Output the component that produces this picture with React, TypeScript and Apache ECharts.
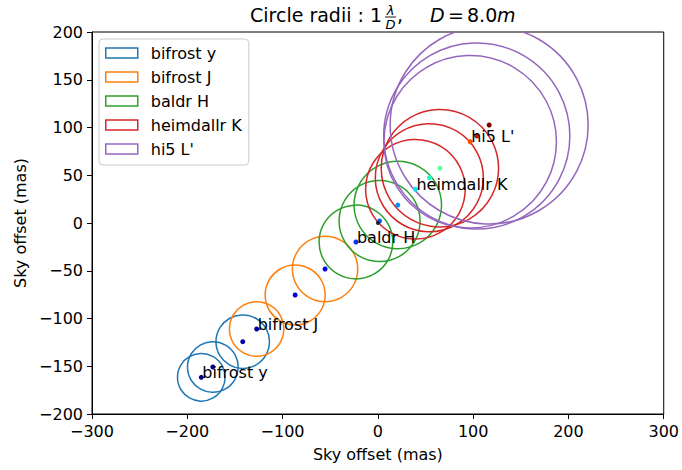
import React, { useEffect, useRef } from 'react';
import * as echarts from 'echarts';

// ---------- data ----------
const instruments = ['bifrost y', 'bifrost J', 'baldr H', 'heimdallr K', "hi5 L'"];
const instrumentColors = ['#1f77b4', '#ff7f0e', '#2ca02c', '#d62728', '#9467bd'];

// sky offsets (mas) of each wavelength channel, per instrument
const offsetX = [
  [-185.3, -173.2, -141.8],
  [-127.2, -86.8, -55.4],
  [-23.0, 1.8, 20.9],
  [39.4, 54.0, 65.1],
  [96.9, 103.8, 116.8],
];
const offsetY = [
  [-161.6, -150.8, -124.3],
  [-111.0, -75.4, -48.2],
  [-19.9, 2.1, 18.8],
  [35.3, 47.4, 57.3],
  [85.1, 91.1, 102.6],
];
// circle radii (mas) = 1 lambda / D
const radiiMas = [
  [25.0, 26.6, 28.1],
  [28.6, 31.5, 34.3],
  [38.7, 42.5, 45.9],
  [52.3, 56.7, 61.6],
  [90.5, 97.7, 103.9],
];
const referencePoint = [0, 0];

const xTicks = [-300, -200, -100, 0, 100, 200, 300];
const yTicks = [-200, -150, -100, -50, 0, 50, 100, 150, 200];

// jet colormap stops
const jetColors = ['#000080', '#0000ff', '#0080ff', '#14ffe2', '#7bff7b', '#e3ff14', '#ff9700', '#ff2100', '#800000'];

const FONT = 'DejaVu Sans';

const minusFmt = (v: number) => (v < 0 ? '\u2212' + Math.abs(v) : String(v));

const titleText = (text: string, x: number, y: number, fontSize: number, italic = false, align = 'left') => ({
  type: 'text',
  x,
  y,
  style: {
    text,
    fontSize,
    fontFamily: FONT,
    fontStyle: italic ? 'italic' : 'normal',
    fill: '#000',
    align,
    verticalAlign: 'middle',
  },
});

export default function App() {
  const ref = useRef<HTMLDivElement>(null);

  useEffect(() => {
    if (!ref.current) return;
    const chart = echarts.init(ref.current, undefined, { renderer: 'svg' });

    const circleSeries = instruments.map((name, i) => ({
      type: 'custom',
      name,
      clip: true,
      color: instrumentColors[i],
      z: 2,
      data: offsetX[i].map((x, j) => [x, offsetY[i][j], radiiMas[i][j]]),
      renderItem: (params: any, api: any) => {
        const c = api.coord([api.value(0), api.value(1)]);
        const r = api.size([api.value(2), 0])[0];
        return {
          type: 'circle',
          shape: { cx: c[0], cy: c[1], r },
          style: { fill: 'none', stroke: instrumentColors[i], lineWidth: 1.5 },
        };
      },
    }));

    const dotData: number[][] = [];
    instruments.forEach((_, i) => {
      offsetX[i].forEach((x, j) => dotData.push([x, offsetY[i][j], radiiMas[i][j]]));
    });

    const allR = radiiMas.flat();

    const labelSeries = {
      type: 'custom',
      name: 'labels',
      z: 5,
      data: instruments.map((n, i) => [offsetX[i][0], offsetY[i][0], n]),
      renderItem: (params: any, api: any) => {
        const c = api.coord([api.value(0), api.value(1)]);
        return {
          type: 'text',
          x: c[0] + 1,
          y: c[1] - 5,
          style: {
            text: instruments[params.dataIndex],
            fontSize: 16,
            fontFamily: FONT,
            fill: '#000',
            align: 'left',
            verticalAlign: 'middle',
          },
        };
      },
    };

    const axisCommon = {
      type: 'value',
      splitLine: { show: false },
      axisLine: { show: true, onZero: false, lineStyle: { color: '#000', width: 1 } },
      axisTick: { show: true, length: 5, lineStyle: { color: '#000', width: 1 } },
      axisLabel: { fontSize: 16, color: '#000', fontFamily: FONT, margin: 9, formatter: minusFmt },
      name: 'Sky offset (mas)',
      nameLocation: 'middle',
      nameTextStyle: { fontSize: 16, color: '#000', fontFamily: FONT },
    };

    const option: any = {
      animation: false,
      backgroundColor: '#fff',
      grid: {
        left: 92,
        right: 16,
        top: 32,
        bottom: 56,
        show: true,
        borderColor: '#000',
        borderWidth: 1,
        backgroundColor: 'transparent',
      },
      xAxis: {
        ...axisCommon,
        min: xTicks[0],
        max: xTicks[xTicks.length - 1],
        interval: 100,
        nameGap: 32,
      },
      yAxis: {
        ...axisCommon,
        min: yTicks[0],
        max: yTicks[yTicks.length - 1],
        interval: 50,
        nameGap: 60,
      },
      legend: {
        orient: 'vertical',
        left: 99,
        top: 39,
        selectedMode: false,
        data: instruments.map((n, i) => ({
          name: n,
          icon: 'rect',
          itemStyle: { color: '#ffffff', borderColor: instrumentColors[i], borderWidth: 1.5 },
        })),
        itemWidth: 32,
        itemHeight: 10,
        itemGap: 8,
        textStyle: { fontSize: 16, color: '#000', fontFamily: FONT, lineHeight: 16, padding: [0, 0, 0, 8] },
        padding: [6, 7, 8, 6],
        backgroundColor: 'rgba(255,255,255,0.8)',
        borderColor: '#cccccc',
        borderWidth: 1,
        borderRadius: 4,
        z: 10,
      },
      visualMap: {
        show: false,
        type: 'continuous',
        seriesIndex: instruments.length,
        dimension: 2,
        min: Math.min(...allR),
        max: Math.max(...allR),
        inRange: { color: jetColors },
      },
      graphic: [
        titleText('Circle radii : 1', 250, 15, 19),
        titleText('λ', 390.5, 10, 13, true, 'center'),
        {
          type: 'line',
          shape: { x1: 385, y1: 17, x2: 396, y2: 17 },
          style: { stroke: '#000', lineWidth: 0.9 },
        },
        titleText('D', 390.5, 24, 13, true, 'center'),
        titleText(',', 397, 15, 19),
        titleText('D', 430, 15, 19, true),
        titleText('=', 448, 15, 19),
        titleText('8.0', 467, 15, 19),
        titleText('m', 497, 15, 19, true),
      ],
      series: [
        ...circleSeries,
        {
          type: 'scatter',
          name: 'channels',
          symbol: 'circle',
          symbolSize: 5,
          z: 3,
          data: dotData,
          itemStyle: { opacity: 1 },
        },
        {
          type: 'scatter',
          name: 'reference',
          symbol: 'circle',
          symbolSize: 4,
          z: 3,
          data: [referencePoint],
          itemStyle: { color: '#000' },
        },
        labelSeries,
      ],
    };

    chart.setOption(option);
    return () => chart.dispose();
  }, []);

  return <div ref={ref} style={{ position: 'absolute', left: 0, top: 0, width: 682, height: 470 }} />;
}
